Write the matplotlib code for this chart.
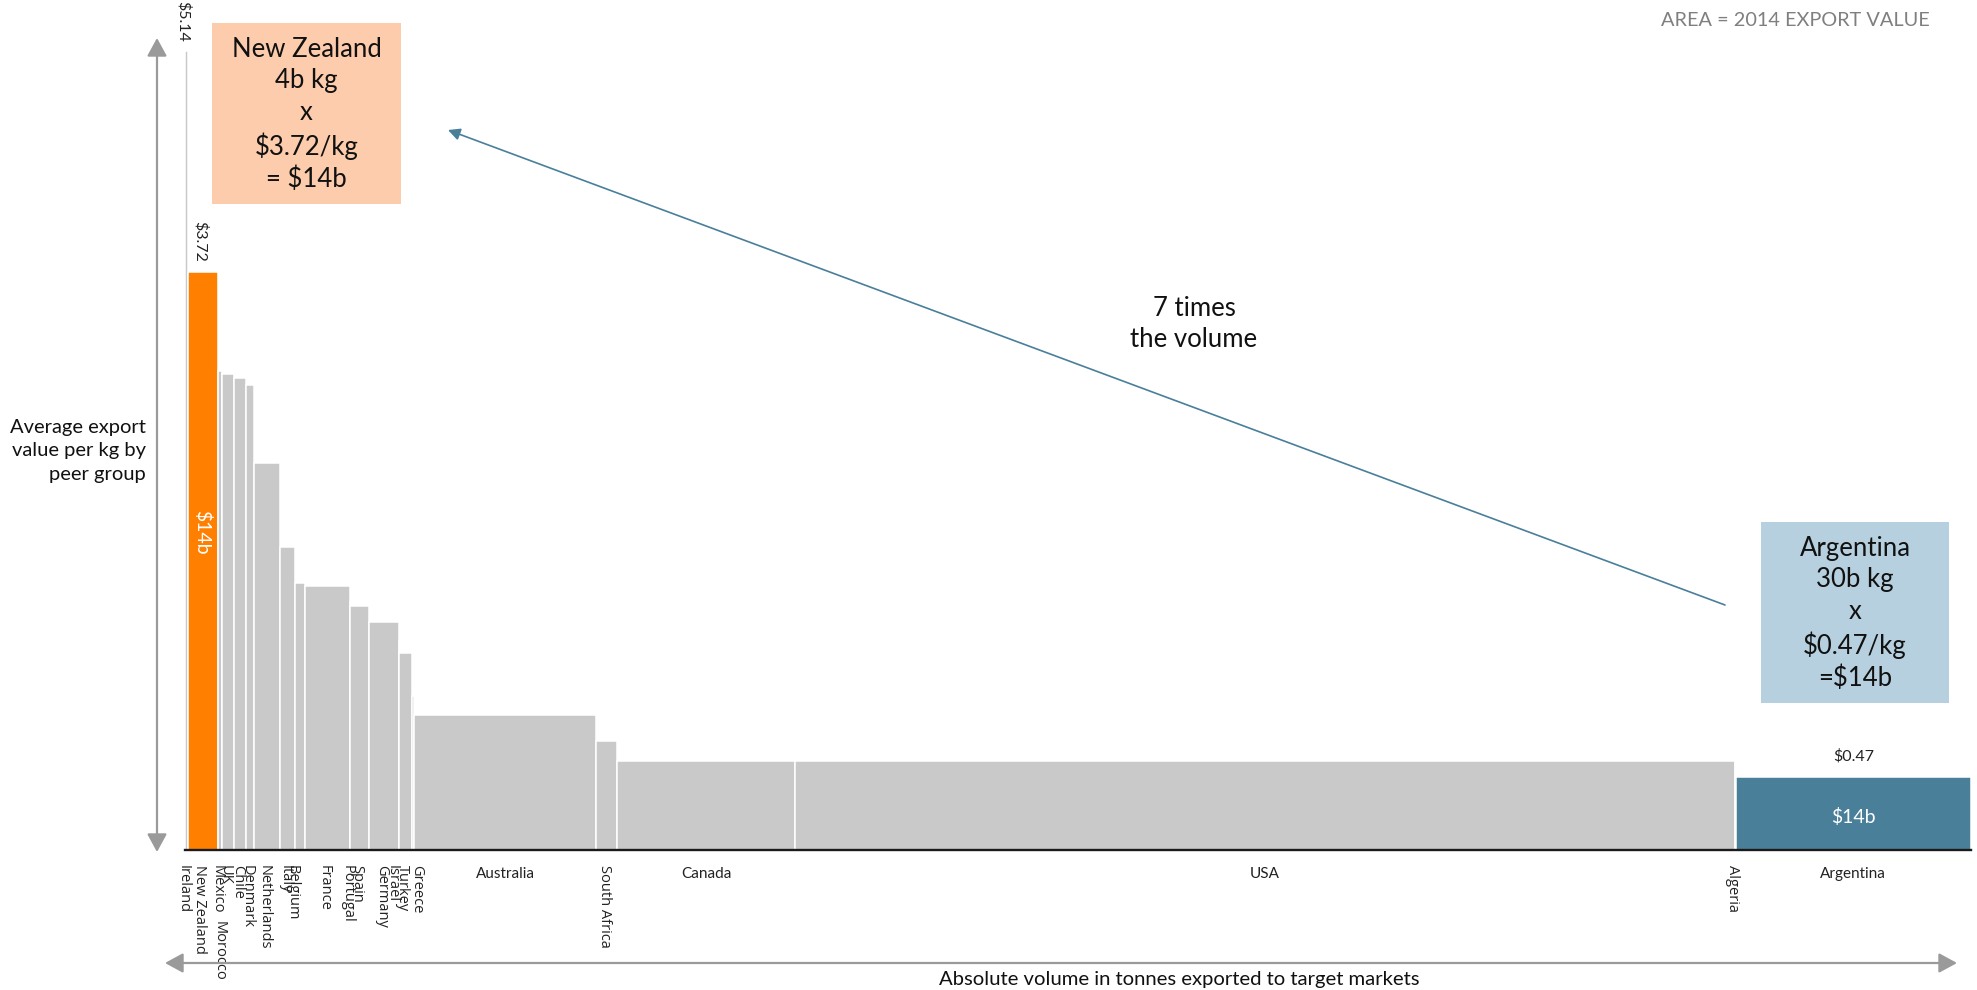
import matplotlib
matplotlib.use('Agg')
import matplotlib.pyplot as plt
from matplotlib.patches import Rectangle, FancyArrowPatch
import numpy as np

# Data: export volume (b kg) and average value per kg ($)
countries = ['Ireland', 'New Zealand', 'Mexico', 'Morocco', 'UK', 'Chile', 'Denmark',
             'Netherlands', 'Italy', 'Belgium', 'France', 'Portugal', 'Spain', 'Germany',
             'Israel', 'Turkey', 'Greece', 'Australia', 'South Africa', 'Canada', 'USA',
             'Algeria', 'Argentina']
volume = [0.32, 3.8, 0.57, 0.02, 1.52, 1.52, 1.01, 3.29, 1.9, 1.27, 5.63, 0.02, 2.47, 3.73,
          0.02, 1.62, 0.28, 23.1, 2.68, 22.5, 119.1, 0.05, 29.8]
value_per_kg = [5.14, 3.72, 3.08, 3.07, 3.06, 3.04, 2.99, 2.49, 1.95, 1.72, 1.70, 1.60, 1.57,
                1.47, 1.35, 1.27, 0.99, 0.87, 0.70, 0.575, 0.57, 0.56, 0.47]
value_labels = {'Ireland': '$5.14', 'New Zealand': '$3.72', 'Argentina': '$0.47'}
area_labels = {'New Zealand': '$14b', 'Argentina': '$14b'}

nz_box = ['New Zealand', '4b kg', 'x', '$3.72/kg', '= $14b']
arg_box = ['Argentina', '30b kg', 'x', '$0.47/kg', '=$14b']

ORANGE = '#FF7F00'
GREY = '#C9C9C9'
BLUE = '#4A7F9A'
ARROW_GREY = '#9A9A9A'
INK = '#111111'

plt.rcParams['font.family'] = ['Lato', 'DejaVu Sans']

W, H = 1977, 990
fig = plt.figure(figsize=(W / 100, H / 100), dpi=100)


def fx(x):
    return x / W


def fy(y):
    return 1 - y / H


# plot area: baseline at y=850px, bars span x 185..1971px, 155.4 px per $
PX_PER_DOLLAR = 155.4
ax = fig.add_axes([fx(185), fy(850), (1971 - 185) / W, (850 - 11) / H])
lefts = np.concatenate([[0], np.cumsum(volume)[:-1]])
colors = [ORANGE if c == 'New Zealand' else BLUE if c == 'Argentina' else GREY for c in countries]
ax.bar(lefts, value_per_kg, width=volume, align='edge', color=colors,
       edgecolor='white', linewidth=1.1)
ax.set_xlim(0, sum(volume))
ax.set_ylim(0, (850 - 11) / PX_PER_DOLLAR)
ax.axis('off')
ax.axhline(0, color='#1a1a1a', lw=1.7, clip_on=False, zorder=5)

# country labels under the baseline
label_nudge = {'Belgium': -4, 'Israel': -3, 'Greece': 5}
label_drop = {'Morocco': 40}
for name, l, w, v in zip(countries, lefts, volume, value_per_kg):
    cx = l + w / 2
    if w > 10:
        ax.annotate(name, (cx, 0), xytext=(0, -17), textcoords='offset points',
                    ha='center', va='center', fontsize=11, color='#222222')
    else:
        ax.annotate(name, (cx, 0), xytext=(-2 + label_nudge.get(name, 0), -11 - label_drop.get(name, 0)),
                    textcoords='offset points', rotation=-90, ha='center', va='top',
                    fontsize=10.5, color='#222222', family=['Open Sans', 'DejaVu Sans'])
    if name in value_labels:
        if w > 10:
            ax.annotate(value_labels[name], (cx, v), xytext=(0, 10), textcoords='offset points',
                        ha='center', va='bottom', fontsize=11.5, color='#222222')
        else:
            ax.annotate(value_labels[name], (cx, v), xytext=(-2, 7), textcoords='offset points',
                        rotation=-90, ha='center', va='bottom', fontsize=11.5, color='#222222')
    if name in area_labels:
        if w > 10:
            ax.text(cx, v * 0.45, area_labels[name], ha='center', va='center',
                    fontsize=14, color='white')
        else:
            ax.text(cx, v * 0.55, area_labels[name], ha='center', va='center',
                    rotation=-90, fontsize=14, color='white')

# callout boxes
for (x0, y0, x1, y1), face, lines in [((212, 23, 401, 204), '#FCCCAC', nz_box),
                                      ((1761, 522, 1949, 703), '#B7D0DF', arg_box)]:
    fig.add_artist(Rectangle((fx(x0), fy(y1)), (x1 - x0) / W, (y1 - y0) / H,
                             transform=fig.transFigure, facecolor=face, edgecolor='none'))
    fig.text(fx((x0 + x1) / 2), fy((y0 + y1) / 2 + 1), '\n'.join(lines), ha='center', va='center',
             fontsize=18.5, linespacing=1.33, color=INK)

# arrow between the boxes
fig.add_artist(FancyArrowPatch((fx(1725), fy(605)), (fx(448), fy(130)),
                               transform=fig.transFigure, arrowstyle='-|>', mutation_scale=18,
                               color=BLUE, lw=1.2, shrinkA=0, shrinkB=0))
fig.text(fx(1194), fy(324), '7 times\nthe volume', ha='center', va='center',
         fontsize=18.5, linespacing=1.33, color=INK)

# axis arrows
fig.add_artist(FancyArrowPatch((fx(157), fy(852)), (fx(157), fy(38)),
                               transform=fig.transFigure, arrowstyle='<|-|>,head_length=0.55,head_width=0.3',
                               mutation_scale=20, color=ARROW_GREY, lw=1.6, shrinkA=0, shrinkB=0))
fig.add_artist(FancyArrowPatch((fx(165), fy(963)), (fx(1957), fy(963)),
                               transform=fig.transFigure, arrowstyle='<|-|>,head_length=0.55,head_width=0.3',
                               mutation_scale=20, color=ARROW_GREY, lw=1.6, shrinkA=0, shrinkB=0))

fig.text(fx(146), fy(451), 'Average export\nvalue per kg by\npeer group', ha='right', va='center',
         fontsize=14.5, linespacing=1.45, color=INK)
fig.text(fx(1179), fy(979), 'Absolute volume in tonnes exported to target markets',
         ha='center', va='center', fontsize=14.6, color=INK)
fig.text(fx(1930), fy(21), 'AREA = 2014 EXPORT VALUE', ha='right', va='center',
         fontsize=14.3, color='#7f7f7f')

fig.savefig('out.png', dpi=100)
